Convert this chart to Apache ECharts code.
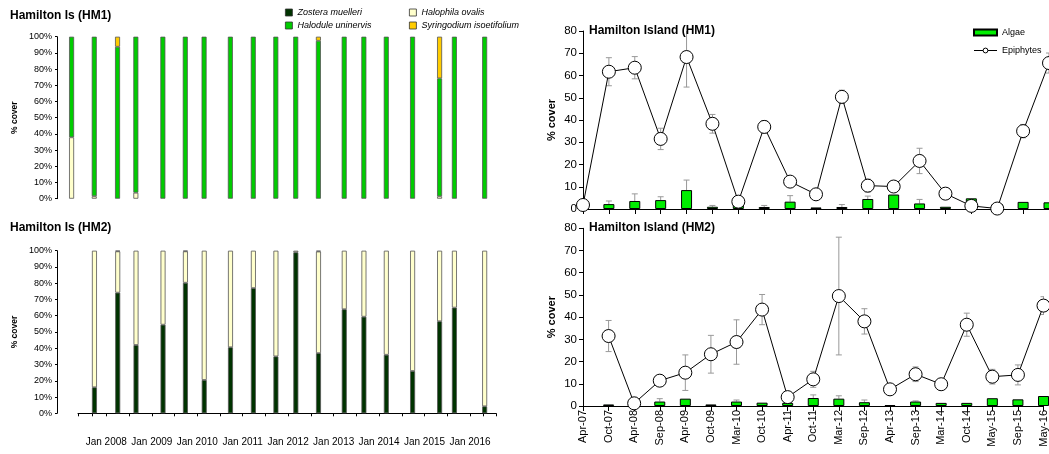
<!DOCTYPE html>
<html>
<head>
<meta charset="utf-8">
<script src="https://cdn.jsdelivr.net/npm/echarts@6/dist/echarts.min.js"></script>
<style>
  html, body { margin: 0; padding: 0; background: #fff; }
  #chart { width: 1049px; height: 454px; }
</style>
</head>
<body>
<div id="chart"></div>
<script>
// sampling dates (left panels, time axis)
const sampleDates = ['2007-03-30', '2007-09-28', '2008-04-02', '2008-08-27', '2009-04-01', '2009-09-28',
  '2010-02-26', '2010-09-25', '2011-03-28', '2011-09-25', '2012-03-03', '2012-09-01', '2013-03-27',
  '2013-09-01', '2014-02-28', '2014-09-27', '2015-05-02', '2015-08-29', '2016-04-28'];
// sampling labels (right panels, category axis)
const sampleLabels = ['Apr-07', 'Oct-07', 'Apr-08', 'Sep-08', 'Apr-09', 'Oct-09', 'Mar-10', 'Oct-10',
  'Apr-11', 'Oct-11', 'Mar-12', 'Sep-12', 'Apr-13', 'Sep-13', 'Mar-14', 'Oct-14', 'May-15', 'Sep-15', 'May-16'];

const speciesNames = ['Zostera muelleri', 'Halophila ovalis', 'Halodule uninervis', 'Syringodium isoetifolium'];

// species composition, HM1 (%)
const zostera1 = [0, 0, 0, 0, 0, 0, 0, 0, 0, 0, 0, 0, 0, 0, 0, 0, 0, 0, 0];
const halophila1 = [37.9, 1.5, 0, 3.7, 0, 0, 0, 0, 0, 0, 0, 0, 0, 0, 0, 0, 1.5, 0, 0];
const halodule1 = [62.1, 98.5, 93.8, 96.3, 100, 100, 100, 100, 100, 100, 100, 97.5, 100, 100, 100, 100, 72.8, 100, 100];
const syringodium1 = [0, 0, 6.2, 0, 0, 0, 0, 0, 0, 0, 0, 2.5, 0, 0, 0, 0, 25.7, 0, 0];

// species composition, HM2 (%)
const zostera2 = [null, 16, 74.2, 42, 54.5, 80.3, 20.5, 40.6, 77, 35, 99, 37, 64, 59.4, 36, 26, 56.6, 65, 4.3];
const halophila2 = [null, 84, 25.4, 58, 45.5, 19.3, 79.5, 59.4, 23, 65, 1, 62.5, 36, 40.6, 64, 74, 43.4, 35, 95.7];
const halodule2 = [null, 0, 0.4, 0, 0, 0.4, 0, 0, 0, 0, 0, 0.5, 0, 0, 0, 0, 0, 0, 0];
const syringodium2 = [null, 0, 0, 0, 0, 0, 0, 0, 0, 0, 0, 0, 0, 0, 0, 0, 0, 0, 0];

// epiphytes / algae % cover, HM1
const epi1 = [1.8, 61.7, 63.5, 31.5, 68.3, 38.3, 3.3, 36.9, 12.3, 6.6, 50.4, 10.5, 10.1, 21.6, 6.9, 1.4, 0.2, 35, 65.6];
const epi1Err = [0.5, 6.3, 5, 4.8, 13.5, 4.2, 1, 2.8, 1, 0.8, 3, 2.9, 1, 5.7, 0.8, 0.8, 0.3, 3, 4.5];
const alg1 = [3, 2.2, 3.6, 4, 8.5, 1, 3.9, 0.9, 3.3, 0.7, 0.9, 4.5, 6.5, 2.5, 1, 4.8, 2.2, 3.2, 3];
const alg1Err = [0, 1.4, 3.2, 1.5, 4.5, 0.6, 0, 0.7, 2.7, 0, 1.1, 1.3, 0, 1.8, 0, 0, 0, 0, 0];

// epiphytes / algae % cover, HM2
const epi2 = [null, 31.5, 1.2, 11.4, 15, 23.3, 28.8, 43.4, 4, 12, 49.5, 38.1, 7.5, 14.3, 9.8, 36.6, 13.2, 14, 45.2];
const epi2Err = [null, 7, 2.3, 2.4, 8, 8.5, 10, 6.8, 1, 3.6, 26.5, 5.7, 1.5, 3.3, 2.5, 5.2, 3.3, 4.5, 4];
const alg2 = [null, 0.7, 2.7, 2, 3.3, 0.7, 2, 1.5, 1.4, 3.6, 3.3, 1.7, 0.4, 2, 1.4, 1.4, 3.5, 3, 4.5];
const alg2Err = [null, 0, 1.2, 1.3, 0, 0, 0.7, 0, 0, 1.4, 1.3, 1, 0, 0.3, 0, 0, 0, 0, 0];

const speciesColors = ['#003300', '#ffffcc', '#00cc00', '#ffcc00'];
const FONT = 'Liberation Sans, Arial, sans-serif';

const chart = echarts.init(document.getElementById('chart'));

// stacked composition bars on a time axis
function speciesSeries(arrs, axisIdx) {
  return arrs.map((arr, k) => ({
    name: speciesNames[k],
    type: 'bar',
    stack: 'sp' + axisIdx,
    xAxisIndex: axisIdx,
    yAxisIndex: axisIdx,
    barWidth: 5,
    clip: false,
    itemStyle: { color: speciesColors[k], borderColor: '#555', borderWidth: 0.8 },
    data: sampleDates.map((d, i) => [d, arr[i] ? arr[i] : null])
  }));
}

// error bars drawn with the axis scale
function errorSeries(vals, errs, axisIdx, plusOnly) {
  return {
    type: 'custom',
    xAxisIndex: axisIdx,
    yAxisIndex: axisIdx,
    z: 1,
    clip: true,
    silent: true,
    data: vals.map((v, i) => [i, v, errs[i]]).filter(d => d[1] != null && d[2]),
    renderItem: function (params, api) {
      const x = api.value(0), v = api.value(1), e = api.value(2);
      const top = api.coord([x, v + e]);
      const bot = api.coord([x, plusOnly ? v : Math.max(v - e, 0)]);
      const hw = 3;
      const st = { stroke: '#999', lineWidth: 1 };
      const kids = [
        { type: 'line', shape: { x1: top[0], y1: top[1], x2: bot[0], y2: bot[1] }, style: st },
        { type: 'line', shape: { x1: top[0] - hw, y1: top[1], x2: top[0] + hw, y2: top[1] }, style: st }
      ];
      if (!plusOnly) {
        kids.push({ type: 'line', shape: { x1: bot[0] - hw, y1: bot[1], x2: bot[0] + hw, y2: bot[1] }, style: st });
      }
      return { type: 'group', children: kids };
    }
  };
}

function algaeSeries(vals, axisIdx) {
  return {
    name: 'Algae', type: 'bar', xAxisIndex: axisIdx, yAxisIndex: axisIdx, z: 2,
    barWidth: 11,
    itemStyle: { color: '#00ee00', borderColor: '#000', borderWidth: 1 },
    data: vals
  };
}

function epiSeries(vals, axisIdx) {
  return {
    name: 'Epiphytes', type: 'line', xAxisIndex: axisIdx, yAxisIndex: axisIdx, z: 3,
    symbol: 'circle', symbolSize: 13,
    lineStyle: { color: '#000', width: 1 },
    itemStyle: { color: '#fff', borderColor: '#000', borderWidth: 1 },
    data: vals
  };
}

const leftTimeLabel = {
  fontSize: 10, color: '#000', fontFamily: FONT, margin: 7,
  showMinLabel: false, showMaxLabel: false,
  formatter: function (v) { return 'Jan ' + new Date(v).getFullYear(); }
};
const YEAR = 365.25 * 24 * 3600 * 1000;

function leftY(gi, offset) {
  return {
    gridIndex: gi, type: 'value', min: 0, max: 100, interval: 10, offset: offset,
    name: '% cover', nameLocation: 'middle', nameGap: 38,
    nameTextStyle: { fontSize: 8.5, fontWeight: 'bold', color: '#000', fontFamily: FONT },
    axisLine: { show: true, lineStyle: { color: '#000' } },
    axisTick: { show: true, length: 2, lineStyle: { color: '#000' } },
    splitLine: { show: false },
    axisLabel: { formatter: '{value}%', fontSize: 9, color: '#000', fontFamily: FONT, margin: 5 }
  };
}

function rightY(gi) {
  return {
    gridIndex: gi, type: 'value', min: 0, max: 80, interval: 10,
    name: '% cover', nameLocation: 'middle', nameGap: 26,
    nameTextStyle: { fontSize: 11, fontWeight: 'bold', color: '#000', fontFamily: FONT },
    axisLine: { show: true, lineStyle: { color: '#000' } },
    axisTick: { show: true, length: 4, lineStyle: { color: '#000' } },
    splitLine: { show: false },
    axisLabel: { fontSize: 11.5, color: '#000', fontFamily: FONT, margin: 6 }
  };
}

function rightX(gi, showLabels) {
  return {
    gridIndex: gi, type: 'category', data: sampleLabels, boundaryGap: false,
    axisLine: { lineStyle: { color: '#000' } },
    axisTick: { show: true, length: 5, lineStyle: { color: '#000' } },
    axisLabel: { show: showLabels, rotate: 90, interval: 0, fontSize: 11, color: '#000', fontFamily: FONT, margin: 4 },
    splitLine: { show: false }
  };
}

const titleStyle = { fontSize: 12, fontWeight: 'bold', color: '#000', fontFamily: FONT };
const legendText = { fontSize: 9, fontStyle: 'italic', color: '#000', fontFamily: FONT };

function speciesLegend(k, left, top) {
  return {
    data: [{ name: speciesNames[k], itemStyle: { borderColor: '#333', borderWidth: 0.8 } }],
    left: left, top: top, padding: 0,
    itemWidth: 7, itemHeight: 7, icon: 'rect', textStyle: legendText, selectedMode: false
  };
}

const option = {
  animation: false,
  backgroundColor: '#fff',
  title: [
    { text: 'Hamilton Is (HM1)', left: 10, top: 10, padding: 0, textStyle: titleStyle },
    { text: 'Hamilton Is (HM2)', left: 10, top: 222, padding: 0, textStyle: titleStyle },
    { text: 'Hamilton Island (HM1)', left: 589, top: 25, padding: 0, textStyle: titleStyle },
    { text: 'Hamilton Island (HM2)', left: 589, top: 222, padding: 0, textStyle: titleStyle }
  ],
  legend: [
    speciesLegend(0, 285, 8),
    speciesLegend(1, 409, 8),
    speciesLegend(2, 285, 21),
    speciesLegend(3, 409, 21),
    { data: [{ name: 'Algae', icon: 'rect' },
             { name: 'Epiphytes', itemStyle: { borderWidth: 1 } }],
      orient: 'vertical', left: 973, top: 28, padding: 0, itemGap: 9,
      itemWidth: 23, itemHeight: 6, selectedMode: false,
      lineStyle: { width: 1 },
      textStyle: { fontSize: 9, color: '#000', fontFamily: FONT } }
  ],
  grid: [
    { left: 57, top: 36.7, width: 439, height: 162 },
    { left: 78, top: 250.7, width: 418, height: 162.6 },
    { left: 583, top: 31, right: 0, height: 178 },
    { left: 583, top: 228.3, right: 0, height: 177.7 }
  ],
  xAxis: [
    { gridIndex: 0, type: 'time', min: '2006-12-23', max: '2016-07-08', show: false },
    { gridIndex: 1, type: 'time', min: '2007-06-08', max: '2016-07-08', offset: 17,
      minInterval: YEAR, maxInterval: YEAR,
      axisLine: { lineStyle: { color: '#000' } },
      axisTick: { show: true, length: 3, lineStyle: { color: '#000' } },
      minorTick: { show: true, splitNumber: 2, length: 3, lineStyle: { color: '#000' } },
      splitLine: { show: false },
      axisLabel: leftTimeLabel },
    rightX(2, false),
    rightX(3, true)
  ],
  yAxis: [leftY(0, 0), leftY(1, 21), rightY(2), rightY(3)],
  series: [
    ...speciesSeries([zostera1, halophila1, halodule1, syringodium1], 0),
    ...speciesSeries([zostera2, halophila2, halodule2, syringodium2], 1),
    errorSeries(alg1, alg1Err, 2, true),
    errorSeries(epi1, epi1Err, 2, false),
    algaeSeries(alg1, 2),
    epiSeries(epi1, 2),
    errorSeries(alg2, alg2Err, 3, true),
    errorSeries(epi2, epi2Err, 3, false),
    algaeSeries(alg2, 3),
    epiSeries(epi2, 3)
  ]
};

chart.setOption(option);
</script>
</body>
</html>
